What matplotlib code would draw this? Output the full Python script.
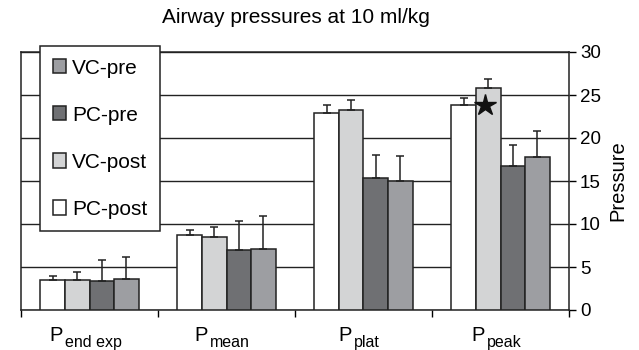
import numpy as np
import matplotlib.pyplot as plt

plt.rcParams['font.family'] = ['Liberation Sans', 'DejaVu Sans']

# data
group_subs = ['end exp', 'mean', 'plat', 'peak']
series = ['PC-post', 'VC-post', 'PC-pre', 'VC-pre']
values = {
    'PC-post': [3.5, 8.7, 22.9, 23.8],
    'VC-post': [3.5, 8.5, 23.3, 25.8],
    'PC-pre': [3.4, 7.0, 15.4, 16.7],
    'VC-pre': [3.6, 7.1, 15.0, 17.8],
}
errors = {
    'PC-post': [0.5, 0.6, 0.95, 0.85],
    'VC-post': [0.95, 1.1, 1.15, 1.05],
    'PC-pre': [2.4, 3.35, 2.6, 2.5],
    'VC-pre': [2.6, 3.8, 2.9, 3.0],
}
colors = {'PC-post': 'white', 'VC-post': '#d3d4d5', 'PC-pre': '#6f7073', 'VC-pre': '#9d9ea2'}
star_value = 23.8  # significance marker on VC-post, P peak

fig = plt.figure(figsize=(6.39, 3.5), dpi=100)
ax = fig.add_axes([21/639, 1-310/350, 548/639, 258/350])

x = np.arange(len(group_subs))
w = 0.18
offsets = [-1.5*w, -0.5*w, 0.5*w, 1.5*w]
bars = {}
for s, off in zip(series, offsets):
    bars[s] = ax.bar(x + off, values[s], w, color=colors[s], edgecolor='#222222', linewidth=1.1,
                     yerr=[np.zeros(4), errors[s]], error_kw=dict(ecolor='#222222', elinewidth=1.1, capsize=3, capthick=1.1),
                     zorder=3)

ax.plot(x[3] + offsets[1] - 0.02, star_value, marker='*', color='#111111', markersize=16, zorder=5)

ax.set_xlim(-0.5, 3.5)
ax.set_ylim(0, 30)
ax.set_yticks(np.arange(0, 31, 5))
ax.yaxis.tick_right()
ax.yaxis.set_label_position('right')
ax.tick_params(axis='y', direction='out', length=5, width=1, labelsize=13.5, pad=3)
ax.set_ylabel('Pressure', fontsize=14.5, labelpad=5)
ax.grid(axis='y', color='#222222', linewidth=1, zorder=0)
ax.set_axisbelow(True)

ax.set_xticks(np.arange(-0.5, 4, 1))
ax.set_xticklabels([])
ax.tick_params(axis='x', direction='out', length=5, width=1)
for sp in ax.spines.values():
    sp.set_color('#222222')
    sp.set_linewidth(1.1)

# group labels: P with a subscript
labels = []
for i, sub in enumerate(group_subs):
    p = ax.annotate('P', xy=(i, 0), xycoords=('data', 'axes fraction'), xytext=(0, -11.5),
                    textcoords='offset points', ha='left', va='top', fontsize=14.5)
    sb = ax.annotate(sub, xy=(1, 0), xycoords=p, xytext=(1.5, -1.5), textcoords='offset points',
                     ha='left', va='baseline', fontsize=11.5)
    labels.append((p, sb))
fig.canvas.draw()
r = fig.canvas.get_renderer()
for p, sb in labels:
    total = sb.get_window_extent(r).x1 - p.get_window_extent(r).x0
    p.xyann = (-(total / 2 + 4) * 0.72, -11.5)

handles = [bars[s] for s in series[::-1]]
leg = fig.legend(handles, series[::-1], loc='upper left', bbox_to_anchor=(40/639, 1-46/350),
                 fontsize=15, frameon=True, fancybox=False, edgecolor='#222222', framealpha=1,
                 handlelength=0.67, handleheight=0.67, handletextpad=0.27, labelspacing=1.35,
                 borderpad=0.6, borderaxespad=0)
leg.get_frame().set_linewidth(1.1)

fig.text(296/639, 1-17.5/350, 'Airway pressures at 10 ml/kg', ha='center', va='center', fontsize=15)

fig.savefig('out.png', dpi=100)
